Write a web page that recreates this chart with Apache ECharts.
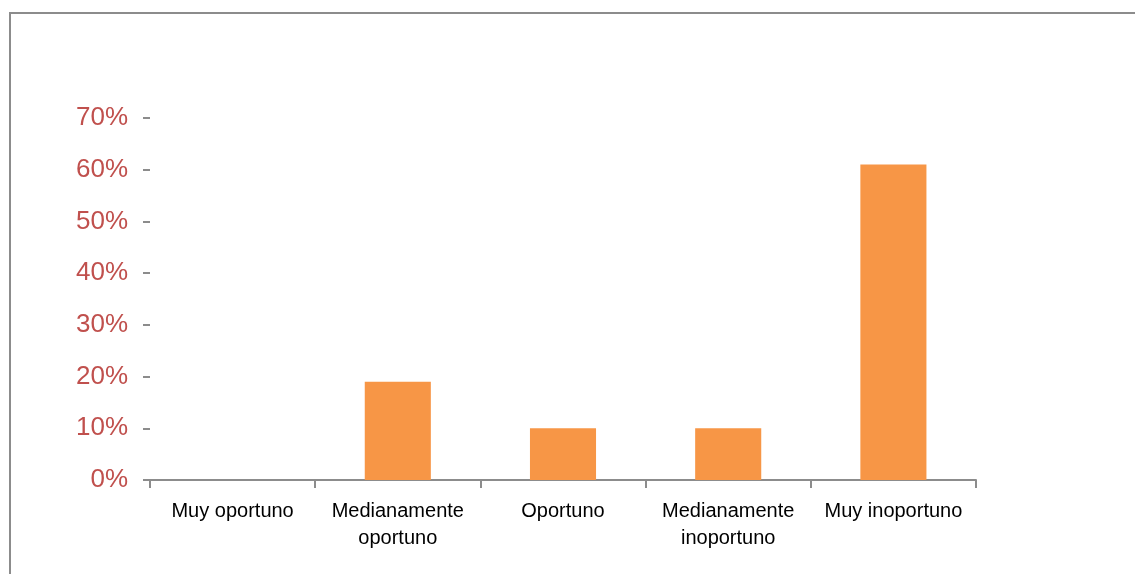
<!DOCTYPE html>
<html>
<head>
<meta charset="utf-8">
<script src="https://cdn.jsdelivr.net/npm/echarts@6/dist/echarts.min.js"></script>
<style>
  html, body { margin: 0; padding: 0; background: #fff; }
  #chart { width: 1135px; height: 574px; }
</style>
</head>
<body>
<div id="chart"></div>
<script>
const categories = ['Muy oportuno', 'Medianamente\noportuno', 'Oportuno', 'Medianamente\ninoportuno', 'Muy inoportuno'];
const shares = [0, 0.19, 0.10, 0.10, 0.61];

const myChart = echarts.init(document.getElementById('chart'));

const option = {
  animation: false,
  graphic: [{
    type: 'rect',
    shape: { x: 10, y: 13, width: 1140, height: 600 },
    style: { fill: 'none', stroke: '#8c8c8c', lineWidth: 2 }
  }],
  grid: { left: 150, right: 159, top: 118, bottom: 94 },
  xAxis: {
    type: 'category',
    data: categories,
    axisLine: { lineStyle: { color: '#8c8c8c', width: 2 } },
    axisTick: { show: true, length: 8, lineStyle: { color: '#8c8c8c', width: 2 } },
    axisLabel: {
      color: '#000',
      fontFamily: 'Liberation Sans',
      fontSize: 20,
      lineHeight: 27,
      margin: 18,
      interval: 0
    }
  },
  yAxis: {
    type: 'value',
    min: 0,
    max: 0.7,
    interval: 0.1,
    axisLine: { show: false },
    axisTick: { show: true, length: 7, lineStyle: { color: '#8c8c8c', width: 2 } },
    splitLine: { show: false },
    axisLabel: {
      color: '#c0504d',
      fontFamily: 'Liberation Sans',
      fontSize: 26,
      margin: 22,
      formatter: v => Math.round(v * 100) + '%'
    }
  },
  series: [{
    type: 'bar',
    data: shares,
    barWidth: '40%',
    itemStyle: { color: '#f79646' }
  }]
};

myChart.setOption(option);
</script>
</body>
</html>
